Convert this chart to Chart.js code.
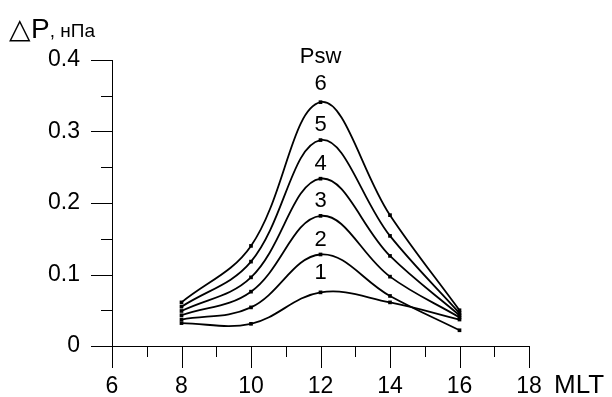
<!DOCTYPE html>
<html>
<head>
<meta charset="utf-8">
<script src="https://cdn.jsdelivr.net/npm/chart.js@4"></script>
<style>
html,body{margin:0;padding:0;background:#fff;}
canvas{display:block;}
</style>
</head>
<body>
<canvas id="c" width="612" height="397"></canvas>
<script>
// ---- data ----
const categories = [8, 10, 12, 14, 16];           // MLT
const series1 = [0.032, 0.031, 0.075, 0.061, 0.037];
const series2 = [0.037, 0.054, 0.128, 0.070, 0.022];
const series3 = [0.043, 0.076, 0.182, 0.097, 0.040];
const series4 = [0.049, 0.096, 0.234, 0.126, 0.043];
const series5 = [0.055, 0.118, 0.288, 0.154, 0.046];
const series6 = [0.061, 0.140, 0.341, 0.183, 0.050];
const seriesNames = ['1', '2', '3', '4', '5', '6'];
const xTickLabels = [6, 8, 10, 12, 14, 16, 18];
const yTickLabels = [0, 0.1, 0.2, 0.3, 0.4];
const xTitle = 'MLT';
const yTitleMain = '\u25B3P';
const yTitleUnit = ', нПа';
const seriesTitle = 'Psw';

const allSeries = [series1, series2, series3, series4, series5, series6];
const FONT = '"Liberation Sans", Arial, sans-serif';

const datasets = allSeries.map((s, k) => ({
  label: seriesNames[k],
  data: categories.map((x, i) => ({x: x, y: s[i]})),
  borderColor: '#000',
  borderWidth: 1.8,
  backgroundColor: '#000',
  pointStyle: 'rect',
  pointRadius: 2.6,
  pointBorderWidth: 0,
  tension: 0.38,
  fill: false
}));

const axesPlugin = {
  id: 'axesPlugin',
  afterDraw(chart) {
    const ctx = chart.ctx;
    const xs = chart.scales.x, ys = chart.scales.y;
    const x0 = xs.getPixelForValue(6), x1 = xs.getPixelForValue(18);
    const y0 = ys.getPixelForValue(0), y1 = ys.getPixelForValue(0.4);
    const major = 22, minor = 11;
    ctx.save();
    ctx.strokeStyle = '#000';
    ctx.lineWidth = 1;
    ctx.beginPath();
    // x axis line
    ctx.moveTo(x0 - 21, Math.round(y0) + 0.5);
    ctx.lineTo(x1, Math.round(y0) + 0.5);
    // y axis line
    ctx.moveTo(Math.round(x0) + 0.5, y1);
    ctx.lineTo(Math.round(x0) + 0.5, y0 + major);
    // x ticks
    for (let v = 6; v <= 18; v += 1) {
      const px = Math.round(xs.getPixelForValue(v)) + 0.5;
      const len = (v % 2 === 0) ? major : minor;
      ctx.moveTo(px, y0);
      ctx.lineTo(px, y0 + len);
    }
    // y ticks
    for (let i = 0; i <= 8; i++) {
      const v = i * 0.05;
      const py = Math.round(ys.getPixelForValue(v)) + 0.5;
      const len = (i % 2 === 0) ? 21 : minor;
      ctx.moveTo(x0 - len, py);
      ctx.lineTo(x0, py);
    }
    ctx.stroke();

    ctx.fillStyle = '#000';
    // axis titles
    ctx.textBaseline = 'middle';
    ctx.textAlign = 'left';
    ctx.font = '26px ' + FONT;
    ctx.fillText(xTitle, 554, 386);
    ctx.font = '28px ' + FONT;
    ctx.fillText(yTitleMain, 9, 30);
    const w = ctx.measureText(yTitleMain).width;
    ctx.font = '19px ' + FONT;
    ctx.fillText(yTitleUnit, 9 + w, 32);

    // series labels
    ctx.textAlign = 'center';
    ctx.font = '22px ' + FONT;
    const cx = xs.getPixelForValue(12);
    const offs = [19, 15, 15, 15, 15, 18];
    allSeries.forEach((s, k) => {
      ctx.fillText(seriesNames[k], cx, ys.getPixelForValue(s[2]) - offs[k]);
    });
    ctx.fillText(seriesTitle, cx, 57);
    ctx.restore();
  }
};

new Chart(document.getElementById('c'), {
  type: 'line',
  data: {datasets: datasets},
  options: {
    responsive: false,
    animation: false,
    devicePixelRatio: 1,
    layout: {padding: {top: 60, right: 83, left: 0, bottom: 0}},
    plugins: {legend: {display: false}, tooltip: {enabled: false}},
    scales: {
      x: {
        type: 'linear',
        min: 6, max: 18,
        grid: {display: false, drawTicks: false},
        border: {display: false},
        afterFit(s) { s.height = 51; },
        ticks: {
          stepSize: 1,
          autoSkip: false,
          maxRotation: 0,
          padding: 27,
          color: '#000',
          font: {family: FONT, size: 23},
          callback: (v) => xTickLabels.includes(v) ? String(v) : ''
        }
      },
      y: {
        type: 'linear',
        min: 0, max: 0.4,
        grid: {display: false, drawTicks: false},
        border: {display: false},
        afterFit(s) { s.width = 112; },
        ticks: {
          stepSize: 0.05,
          autoSkip: false,
          padding: 32,
          color: '#000',
          font: {family: FONT, size: 23},
          callback: (v) => {
            const r = Math.round(v * 100) / 100;
            return yTickLabels.some(t => Math.abs(t - r) < 1e-9) ? String(r) : '';
          }
        }
      }
    }
  },
  plugins: [axesPlugin]
});
</script>
</body>
</html>
